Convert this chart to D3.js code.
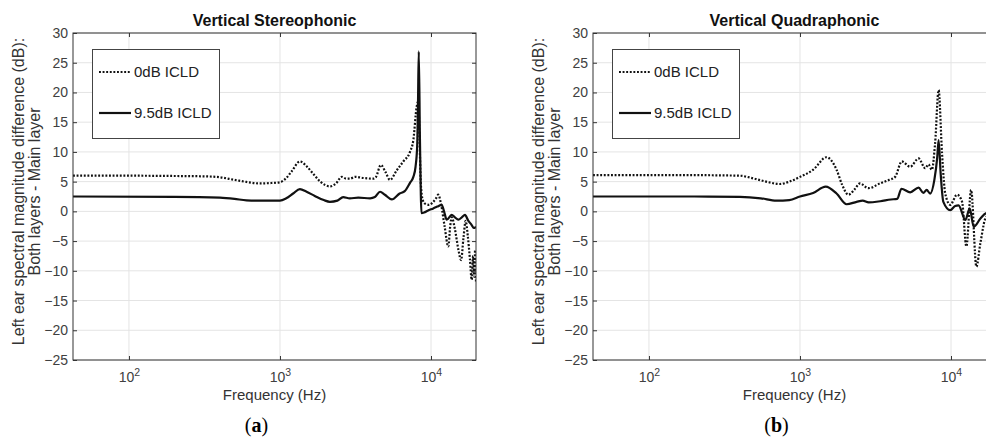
<!DOCTYPE html>
<html>
<head>
<meta charset="utf-8">
<script src="https://cdn.jsdelivr.net/npm/d3@7/dist/d3.min.js"></script>
<style>
  body { margin: 0; background: #fff; }
  svg { display: block; font-family: "Liberation Sans", Arial, sans-serif; }
  .grid line { stroke: #e4e4e4; stroke-width: 1; }
  .axis path { display: none; }
  .axis line { stroke: #333; }
  .axis text { fill: #404040; font-size: 14px; }
  .frame { fill: none; stroke: #333; stroke-width: 1; }
  .title { font-size: 16px; font-weight: bold; fill: #111; }
  .label { fill: #333; font-size: 15px; }
  .ylabel { fill: #333; font-size: 16px; }
  .legend rect { fill: #fff; stroke: #444; }
  .legend text { font-size: 15px; fill: #222; }
  .tag { font-family: "Liberation Serif", "DejaVu Serif", serif; font-size: 20px; fill: #000; }
  .curve { fill: none; stroke: #111; }
  .dotted { stroke-width: 2.2; stroke-dasharray: 1.9 1.7; }
  .solid { stroke-width: 2.2; }
</style>
</head>
<body>
<svg id="fig" width="986" height="437"></svg>
<script>
// values: [frequency Hz, dB]
const stereoDotted = [
  [42.6, 6.0], [100, 6.0], [200, 5.95], [300, 5.9], [380, 5.8], [500, 5.3], [600, 4.95],
  [738, 4.7], [850, 4.75], [1000, 4.9], [1100, 5.6], [1200, 6.8], [1355, 8.4],
  [1500, 7.6], [1650, 6.4], [1850, 5.0], [2140, 4.2], [2350, 4.7], [2560, 5.8],
  [2750, 5.5], [2910, 5.5], [3140, 5.8], [3600, 5.6], [4150, 5.5], [4300, 5.7],
  [4660, 7.8], [5000, 6.6], [5350, 5.3], [5930, 6.9], [6560, 8.4], [7260, 10.0],
  [7640, 12.0], [8040, 17.6], [8240, 18.5], [8400, 12.0], [8550, 5.0], [8800, 2.0],
  [9120, 1.3], [9700, 1.1], [10350, 1.6], [10800, 2.2], [11170, 2.8], [11700, 1.0],
  [12300, -2.5], [13020, -5.9], [13400, -2.5], [13720, -1.0], [14400, -3.0],
  [15200, -6.5], [15820, -8.2], [16400, -4.5], [16970, -1.6], [17500, -4.0],
  [18100, -8.0], [18600, -11.5], [19000, -7.5], [19300, -11.0], [19600, -6.5],
  [19860, -11.8]
];
const stereoSolid = [
  [42.6, 2.5], [200, 2.45], [400, 2.3], [500, 2.1], [600, 1.85], [800, 1.8],
  [1000, 1.8], [1100, 2.2], [1222, 3.0], [1355, 3.75], [1500, 3.3], [1700, 2.6],
  [1950, 1.9], [2140, 1.6], [2400, 1.8], [2620, 2.4], [2900, 2.2], [3300, 2.3],
  [3950, 2.2], [4250, 2.4], [4600, 3.3], [4950, 2.8], [5500, 2.0], [6200, 3.0],
  [6700, 3.4], [7260, 4.8], [7640, 5.8], [7900, 7.5], [8100, 11.0], [8200, 18.0],
  [8300, 26.9], [8450, 12.0], [8650, -0.3], [9000, -0.2], [9500, 0.1], [10350, 0.5],
  [11000, 0.8], [11770, 1.1], [12200, 0.0], [12710, -1.4], [13710, -0.6],
  [14400, -1.0], [15170, -1.4], [16000, -1.0], [16790, -0.6], [17600, -1.5],
  [18600, -2.3], [19200, -2.8], [19860, -2.6]
];
const quadDotted = [
  [42.6, 6.1], [100, 6.1], [200, 6.1], [300, 6.05], [398, 6.0], [500, 5.5],
  [620, 4.9], [735, 4.6], [850, 5.0], [1000, 5.8], [1222, 7.0], [1500, 9.1],
  [1747, 7.0], [1900, 4.5], [2090, 2.8], [2300, 3.7], [2495, 4.7], [2836, 3.9],
  [3390, 4.7], [3900, 5.3], [4265, 5.8], [4725, 8.4], [5370, 7.5], [6100, 8.9],
  [6750, 7.25], [7090, 7.9], [7470, 7.0], [7850, 11.5], [8280, 20.4], [8720, 9.8],
  [9160, 3.0], [9890, 1.1], [10960, 2.8], [11840, 1.6], [12640, -5.9], [13590, 3.6],
  [14730, -9.3], [15660, -5.3], [17180, -0.9], [18500, -3.0], [19860, -6.0]
];
const quadSolid = [
  [42.6, 2.5], [200, 2.5], [400, 2.45], [550, 2.2], [698, 1.8], [850, 1.9],
  [1000, 2.5], [1222, 3.1], [1480, 4.15], [1747, 3.0], [2036, 1.2], [2370, 1.6],
  [2600, 1.8], [2850, 1.5], [3400, 1.7], [4000, 2.0], [4400, 2.1], [4700, 3.8],
  [5370, 3.2], [6100, 4.0], [6560, 3.1], [6900, 3.6], [7280, 3.0], [7760, 5.3],
  [8100, 9.0], [8280, 12.0], [8540, 6.4], [8900, 1.6], [9890, 0.2], [10660, 0.9],
  [11220, 1.0], [12450, -1.45], [13300, 0.5], [14140, -2.6], [15660, -1.2],
  [17180, -0.3], [19860, -1.0]
];

const yTicks = [-25, -20, -15, -10, -5, 0, 5, 10, 15, 20, 25, 30];
const xTicks = [100, 1000, 10000];
const titles = ['Vertical Stereophonic', 'Vertical Quadraphonic'];
const tags = ['a', 'b'];
const legendLabels = ['0dB ICLD', '9.5dB ICLD'];
const yLabelLines = ['Left ear spectral magnitude difference (dB):', 'Both layers - Main layer'];
const xLabel = 'Frequency (Hz)';

function panel() {
  let width = 403,
    height = 327,
    x = d3.scaleLog().domain([42.6, 19860]).range([0, width]),
    y = d3.scaleLinear().domain([-25, 30]).range([height, 0]);

  function chart(selection) {
    selection.each(function(d, i) {
      let g = d3.select(this);

      g.append('text').attr('class', 'title')
        .attr('x', width / 2).attr('y', -7)
        .attr('text-anchor', 'middle')
        .text(d.title);

      let grid = g.append('g').attr('class', 'grid');
      grid.selectAll('.h').data(yTicks).join('line')
        .attr('class', 'h')
        .attr('x1', 0).attr('x2', width)
        .attr('y1', v => y(v)).attr('y2', v => y(v));
      grid.selectAll('.v').data(xTicks).join('line')
        .attr('class', 'v')
        .attr('y1', 0).attr('y2', height)
        .attr('x1', v => x(v)).attr('x2', v => x(v));

      let clipId = 'clip' + i;
      g.append('clipPath').attr('id', clipId)
        .append('rect').attr('width', width).attr('height', height);

      let line = d3.line()
        .x(p => x(p[0]))
        .y(p => y(p[1]))
        .curve(d3.curveMonotoneX);

      let curves = g.append('g').attr('clip-path', `url(#${clipId})`);
      curves.append('path').attr('class', 'curve dotted').attr('d', line(d.dotted));
      curves.append('path').attr('class', 'curve solid').attr('d', line(d.solid));

      g.append('g').attr('class', 'axis axis--y')
        .call(d3.axisLeft(y).tickValues(yTicks).tickSizeInner(-4).tickSizeOuter(0).tickPadding(5));
      g.append('g').attr('class', 'axis')
        .attr('transform', `translate(${width},0)`)
        .call(d3.axisRight(y).tickValues(yTicks).tickSizeInner(-4).tickSizeOuter(0).tickFormat(''));
      g.append('g').attr('class', 'axis')
        .call(d3.axisTop(x).tickValues(xTicks).tickSizeInner(-4).tickSizeOuter(0).tickFormat(''));

      let xa = g.append('g').attr('class', 'axis axis--x')
        .attr('transform', `translate(0,${height})`)
        .call(d3.axisBottom(x).tickValues(xTicks).tickSizeInner(-4).tickSizeOuter(0).tickPadding(12));
      xa.selectAll('.tick text').each(function(v) {
        let t = d3.select(this).text('');
        t.append('tspan').text('10');
        t.append('tspan').attr('dy', -6).attr('font-size', 10.5).text(Math.round(Math.log10(v)));
      });

      g.append('rect').attr('class', 'frame').attr('width', width).attr('height', height);

      g.append('text').attr('class', 'label')
        .attr('x', width / 2).attr('y', height + 40)
        .attr('text-anchor', 'middle')
        .text(xLabel);

      g.selectAll('.ylabel').data(yLabelLines).join('text')
        .attr('class', 'ylabel')
        .attr('text-anchor', 'middle')
        .attr('transform', (s, k) => `translate(${-49 + k * 16},${height / 2 - 5}) rotate(-90)`)
        .text(s => s);

      let tag = g.append('text').attr('class', 'tag')
        .attr('x', width / 2 - 18).attr('y', height + 72)
        .attr('text-anchor', 'middle');
      tag.append('tspan').text('(');
      tag.append('tspan').attr('font-weight', 'bold').text(d.tag);
      tag.append('tspan').text(')');

      let lg = g.append('g').attr('class', 'legend').attr('transform', 'translate(19,16)');
      lg.append('rect').attr('x', 0.5).attr('y', 0.5).attr('width', 127).attr('height', 89);
      let item = lg.selectAll('.item').data(legendLabels).join('g')
        .attr('class', 'item')
        .attr('transform', (s, k) => `translate(0,${23 + k * 41})`);
      item.append('line')
        .attr('class', (s, k) => 'curve ' + (k ? 'solid' : 'dotted'))
        .attr('x1', 7).attr('x2', 39);
      item.append('text').attr('x', 42).attr('dy', '0.35em').text(s => s);
    });
  }

  chart.size = function(_) {
    if (!arguments.length) return [width, height];
    [width, height] = _;
    x.range([0, width]);
    y.range([height, 0]);
    return chart;
  };

  return chart;
}

const panels = [
  { title: titles[0], tag: tags[0], dotted: stereoDotted, solid: stereoSolid, left: 73 },
  { title: titles[1], tag: tags[1], dotted: quadDotted, solid: quadSolid, left: 593 }
];

d3.select('#fig').selectAll('g.panel').data(panels).join('g')
  .attr('class', 'panel')
  .attr('transform', d => `translate(${d.left},33)`)
  .call(panel());
</script>
</body>
</html>
